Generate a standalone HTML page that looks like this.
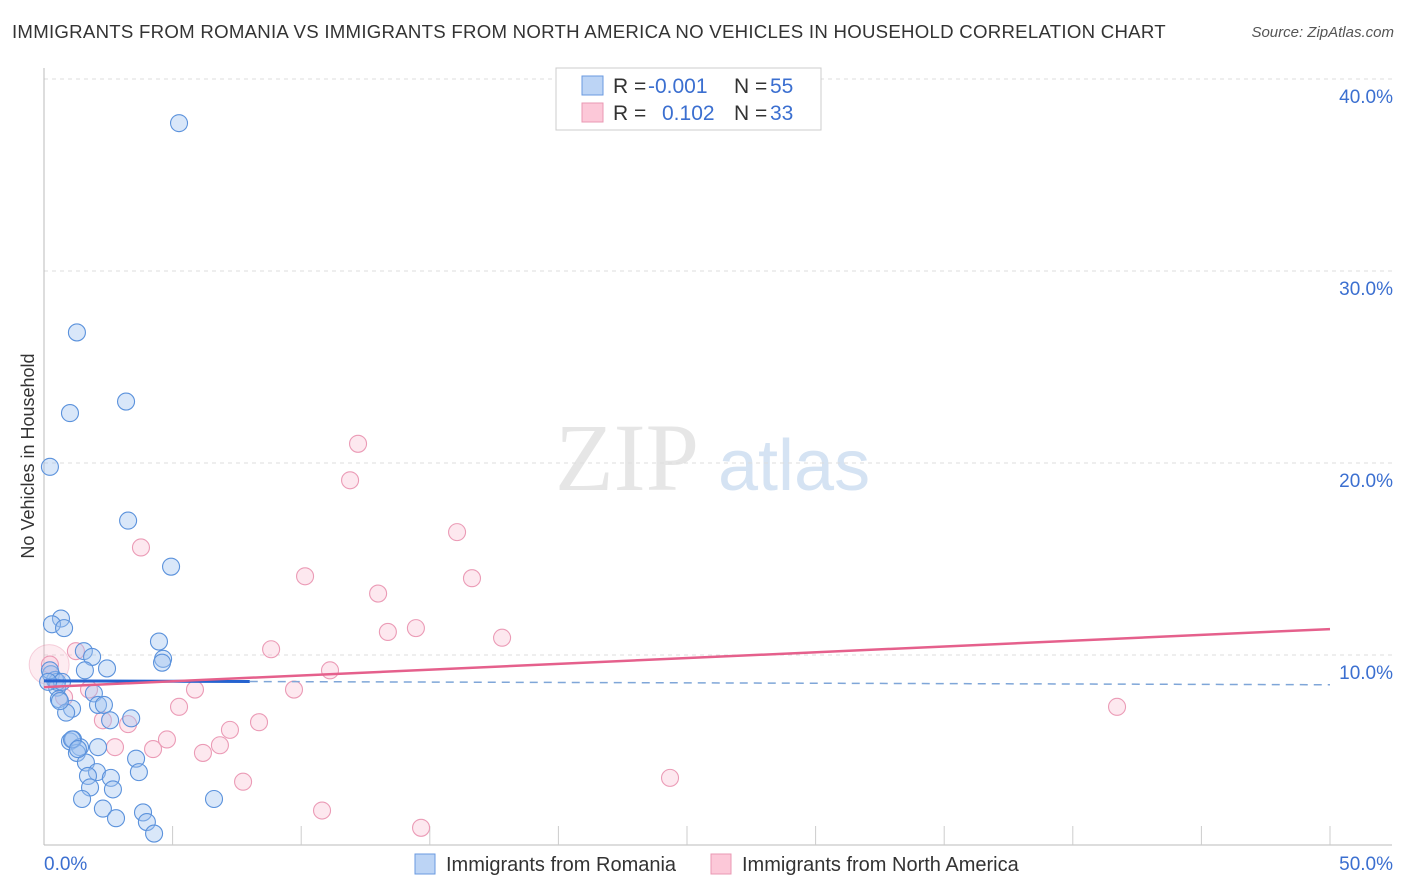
<!DOCTYPE html>
<html><head><meta charset="utf-8"><style>
body{margin:0;background:#fff;font-family:"Liberation Sans",sans-serif;}
#wrap{position:relative;width:1406px;height:892px;overflow:hidden;}
.t{position:absolute;white-space:nowrap;}
</style></head><body>
<div id="wrap">
<div class="t" style="left:12px;top:22px;font-size:18px;color:#333;letter-spacing:0.25px;transform:scaleX(1.035);transform-origin:left;">IMMIGRANTS FROM ROMANIA VS IMMIGRANTS FROM NORTH AMERICA NO VEHICLES IN HOUSEHOLD CORRELATION CHART</div>
<div class="t" style="right:12px;top:24px;font-size:15px;color:#555;font-style:italic;">Source: ZipAtlas.com</div>
<svg id="svg" width="1406" height="892" style="position:absolute;left:0;top:0"></svg>
</div>
<script>
const blueX=[5.25,1.28,1.01,3.19,0.23,3.27,4.94,0.66,0.31,0.78,4.47,1.55,1.87,4.63,4.59,2.45,1.59,0.27,0.43,0.51,1.94,0.58,1.09,0.86,2.10,2.33,2.57,3.39,1.01,1.13,1.40,1.28,2.10,1.63,3.58,2.06,1.71,2.60,3.69,1.79,2.68,1.48,6.61,2.29,3.85,2.80,4.00,4.28,0.51,0.23,0.70,1.09,1.32,0.16,0.62];
const blueY=[37.7,26.8,22.6,23.2,19.8,17.0,14.6,11.9,11.6,11.4,10.7,10.2,9.9,9.8,9.6,9.3,9.2,9.0,8.7,8.3,8.0,7.7,7.2,7.0,7.4,7.4,6.6,6.7,5.5,5.6,5.2,4.9,5.2,4.4,4.6,3.9,3.7,3.6,3.9,3.1,3.0,2.5,2.5,2.0,1.8,1.5,1.3,0.7,8.6,9.2,8.6,5.6,5.1,8.6,7.6];
const pinkX=[12.21,11.90,3.77,16.06,10.15,16.64,12.99,13.37,14.46,17.81,8.83,1.24,11.12,0.23,1.75,5.87,9.72,0.78,5.25,41.72,2.29,3.27,8.36,7.23,4.78,2.76,4.24,6.84,6.18,7.74,24.34,10.81,14.66];
const pinkY=[21.0,19.1,15.6,16.4,14.1,14.0,13.2,11.2,11.4,10.9,10.3,10.2,9.2,9.5,8.2,8.2,8.2,7.8,7.3,7.3,6.6,6.4,6.5,6.1,5.6,5.2,5.1,5.3,4.9,3.4,3.6,1.9,1.0];
const yTicks=[10,20,30,40];
const blueTrend=[8.65,8.45], pinkTrend=[8.33,11.35];
const svg=document.getElementById('svg');
const NS='http://www.w3.org/2000/svg';
const X=v=>44+v/50*1286, Y=v=>847-v*19.2;
function el(tag,attrs,name,parent){const e=document.createElementNS(NS,tag);for(const k in attrs)e.setAttribute(k,attrs[k]);


(parent||svg).appendChild(e);return e;}
const wm=el('text',{x:555,y:490,'font-size':96,fill:'#e6e6e6','font-family':'Liberation Serif'},'watermark-zip');wm.textContent='ZIP';
const wm2=el('text',{x:718,y:490,'font-size':72,fill:'#d5e3f3','font-family':'Liberation Sans'},'watermark-atlas');wm2.textContent='atlas';
yTicks.forEach(t=>{el('line',{x1:44,x2:1392,y1:Y(t),y2:Y(t),stroke:'#ddd','stroke-dasharray':'4,4'},'gridline');
const tx=el('text',{x:1393,y:Y(t)+24,'text-anchor':'end','font-size':19,fill:'#3b6fd0'},'y-tick-label');tx.textContent=t.toFixed(1)+'%';});
el('line',{x1:44,x2:44,y1:68,y2:845},'y-axis-line').setAttribute('stroke','#bbb');
el('line',{x1:44,x2:1392,y1:845,y2:845},'x-axis-line').setAttribute('stroke','#bbb');
for(let i=1;i<=10;i++){el('line',{x1:44+i*128.6,x2:44+i*128.6,y1:826,y2:845,stroke:'#ccc'},'x-tick');}
const x0=el('text',{x:44,y:870,'font-size':19,fill:'#3b6fd0'},'x-tick-label');x0.textContent='0.0%';
const x1=el('text',{x:1393,y:870,'font-size':19,fill:'#3b6fd0','text-anchor':'end'},'x-tick-label');x1.textContent='50.0%';
const yl=el('text',{transform:'translate(34,456) rotate(-90)','font-size':18,fill:'#333','text-anchor':'middle'},'y-axis-title');yl.textContent='No Vehicles in Household';
el('circle',{cx:X(0.2),cy:Y(9.5),r:20,fill:'rgba(248,180,200,0.25)',stroke:'rgba(230,130,160,0.35)'},'pink-large-point');
pinkX.forEach((v,i)=>el('circle',{cx:X(v),cy:Y(pinkY[i]),r:8.5,fill:'rgba(248,190,210,0.35)',stroke:'#eb9bb6','stroke-width':1.1},'pink-point'));
blueX.forEach((v,i)=>el('circle',{cx:X(v),cy:Y(blueY[i]),r:8.5,fill:'rgba(160,195,240,0.4)',stroke:'#5b92dc','stroke-width':1.1},'blue-point'));
const bAt=x=>blueTrend[0]+(blueTrend[1]-blueTrend[0])*x/50;
el('line',{x1:X(0),x2:X(8),y1:Y(bAt(0)),y2:Y(bAt(8)),stroke:'#2563d0','stroke-width':3},'blue-trend-line');
el('line',{x1:X(8),x2:X(50),y1:Y(bAt(8)),y2:Y(bAt(50)),stroke:'#7fa6d8','stroke-width':1.5,'stroke-dasharray':'8,6'},'blue-trend-dashed');
el('line',{x1:X(0),x2:X(50),y1:Y(pinkTrend[0]),y2:Y(pinkTrend[1]),stroke:'#e5608c','stroke-width':2.5},'pink-trend-line');
el('rect',{x:556,y:68,width:265,height:62,fill:'#fff',stroke:'#ccc'},'legend-box');
el('rect',{x:582,y:76,width:21,height:19,fill:'#bcd4f5',stroke:'#6a9ae0'},'legend-swatch-blue');
el('rect',{x:582,y:103,width:21,height:19,fill:'#fcc8d8',stroke:'#ea98b3'},'legend-swatch-pink');
function tx(x,y,s,c,n){const t=el('text',{x:x,y:y,'font-size':21,fill:c},n);t.textContent=s;}
tx(613,93,'R =','#333','legend-r-label');tx(648,93,'-0.001','#3b6fd0','legend-r-blue');tx(734,93,'N =','#333','legend-n-label');tx(770,93,'55','#3b6fd0','legend-n-blue');
tx(613,120,'R =','#333','legend-r-label');tx(662,120,'0.102','#3b6fd0','legend-r-pink');tx(734,120,'N =','#333','legend-n-label');tx(770,120,'33','#3b6fd0','legend-n-pink');
el('rect',{x:415,y:854,width:20,height:20,fill:'#bcd4f5',stroke:'#6a9ae0'},'bottom-legend-swatch-blue');
el('rect',{x:711,y:854,width:20,height:20,fill:'#fcc8d8',stroke:'#ea98b3'},'bottom-legend-swatch-pink');
const l1=el('text',{x:446,y:871,'font-size':20,fill:'#333'},'bottom-legend-romania');l1.textContent='Immigrants from Romania';
const l2=el('text',{x:742,y:871,'font-size':20,fill:'#333'},'bottom-legend-north-america');l2.textContent='Immigrants from North America';
</script>
</body></html>
